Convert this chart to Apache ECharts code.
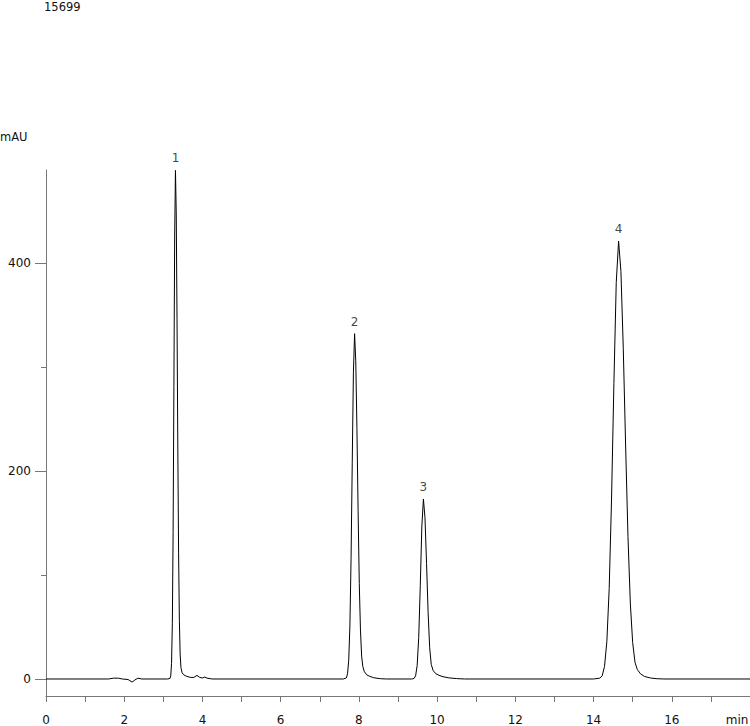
<!DOCTYPE html>
<html><head><meta charset="utf-8">
<script src="https://cdn.jsdelivr.net/npm/echarts@6/dist/echarts.min.js"></script>
<style>html,body{margin:0;padding:0;background:#fff}#c{width:750px;height:726px}</style>
</head><body><div id="c"></div>
<script>
const sampleId = '15699';
const yUnit = 'mAU';
const xUnit = 'min';

const timeMin = [
  0, 1.6, 1.72, 1.85, 1.95, 2.1, 2.2, 2.27, 2.35, 2.45,
  3.10, 3.17, 3.19, 3.21, 3.23, 3.25, 3.27, 3.29, 3.31, 3.33, 3.35, 3.37, 3.39, 3.41, 3.43, 3.45, 3.48, 3.52, 3.6, 3.7, 3.78, 3.86, 3.93, 4.0, 4.06, 4.12, 4.25,
  7.60, 7.68, 7.71, 7.74, 7.77, 7.80, 7.83, 7.86, 7.89, 7.92, 7.95, 7.98, 8.01, 8.04, 8.07, 8.10, 8.14, 8.20, 8.28, 8.38, 8.55, 8.7,
  9.35, 9.41, 9.45, 9.49, 9.53, 9.57, 9.61, 9.65, 9.69, 9.73, 9.77, 9.81, 9.85, 9.90, 9.97, 10.05, 10.15, 10.3, 10.5, 10.7,
  14.00, 14.16, 14.22, 14.28, 14.34, 14.40, 14.46, 14.52, 14.58, 14.64, 14.70, 14.76, 14.82, 14.88, 14.94, 15.00, 15.06, 15.12, 15.20, 15.30, 15.45, 15.60, 15.80,
  18
];
const signalMAU = [
  0, 0, 0.8, 0.8, 0, -0.5, -3, -1, 0.8, 0,
  0, 0.5, 3, 15, 53, 141, 281, 426, 489, 448, 346, 224, 122, 56, 24, 11, 6, 4, 2.5, 1.5, 1.5, 3.5, 1.5, 1, 1.8, 0.8, 0,
  0, 1, 5, 18, 51, 116, 208, 295, 332, 306, 241, 162, 92, 47, 22, 12, 7, 4, 2.5, 1.2, 0.3, 0,
  0, 0.5, 3, 13, 40, 90, 147, 173, 155, 111, 64, 30, 14, 8, 5, 3.5, 2.2, 1.1, 0.4, 0,
  0, 0.8, 3, 12, 36, 87, 173, 284, 381, 421, 392, 318, 224, 137, 73, 35, 16, 9, 5, 2.5, 1, 0.3, 0,
  0
];

const peakNames = ['1', '2', '3', '4'];
const peakTimes = [3.31, 7.89, 9.65, 14.64];
const peakHeights = [489, 332, 173, 421];

const xTicks = [0,1,2,3,4,5,6,7,8,9,10,11,12,13,14,15,16,17,18];
const xTickLabels = [0,2,4,6,8,10,12,14,16];
const yTickLabels = [0, 200, 400];
const yMinorTicks = [100, 300];

const yMin = -16.35, yMax = 489.4;
const font = 'DejaVu Sans';
const axisGray = '#777777';

const chart = echarts.init(document.getElementById('c'), null, {renderer: 'svg'});
chart.setOption({
  animation: false,
  backgroundColor: '#fff',
  textStyle: {fontFamily: font},
  grid: {left: 46, right: 0, top: 170, bottom: 30, containLabel: false, outerBoundsMode: 'none'},
  xAxis: {
    type: 'value', min: 0, max: 18,
    axisLine: {show: true, onZero: false, lineStyle: {color: axisGray, width: 1}},
    axisTick: {show: true, length: 6, customValues: xTicks, lineStyle: {color: axisGray}},
    axisLabel: {customValues: xTickLabels, margin: 18, fontSize: 12, color: '#111', fontFamily: font},
    splitLine: {show: false}
  },
  yAxis: [{
    type: 'value', min: yMin, max: yMax,
    axisLine: {show: true, onZero: false, lineStyle: {color: axisGray, width: 1}},
    axisTick: {show: true, length: 11, customValues: yTickLabels, lineStyle: {color: axisGray}},
    axisLabel: {customValues: yTickLabels, margin: 15, fontSize: 12, color: '#111', fontFamily: font},
    splitLine: {show: false}
  }, {
    type: 'value', min: yMin, max: yMax, position: 'left', offset: 0,
    axisLine: {show: false, onZero: false},
    axisTick: {show: true, length: 5, customValues: yMinorTicks, lineStyle: {color: axisGray}},
    axisLabel: {show: false},
    splitLine: {show: false}
  }],
  graphic: [
    {type: 'text', x: 44, y: 7, style: {text: sampleId, fontSize: 11.5, fontFamily: font, fill: '#111', align: 'left', verticalAlign: 'middle'}},
    {type: 'text', x: 0, y: 137, style: {text: yUnit, fontSize: 11.5, fontFamily: font, fill: '#111', align: 'left', verticalAlign: 'middle'}},
    {type: 'text', x: 737, y: 720, style: {text: xUnit, fontSize: 12, fontFamily: font, fill: '#111', align: 'center', verticalAlign: 'middle'}}
  ],
  series: [{
    type: 'line',
    yAxisIndex: 0,
    data: timeMin.map((t, i) => [t, signalMAU[i]]),
    showSymbol: false,
    symbol: 'none',
    smooth: false,
    lineStyle: {color: '#000', width: 1},
    silent: true
  }, {
    type: 'scatter',
    yAxisIndex: 0,
    data: peakTimes.map((t, i) => ({value: [t, peakHeights[i]], name: peakNames[i]})),
    symbolSize: 0,
    silent: true,
    label: {show: true, position: 'top', distance: 6, formatter: p => p.name, fontSize: 12, color: '#111', fontFamily: font}
  }]
});
</script>
</body></html>
